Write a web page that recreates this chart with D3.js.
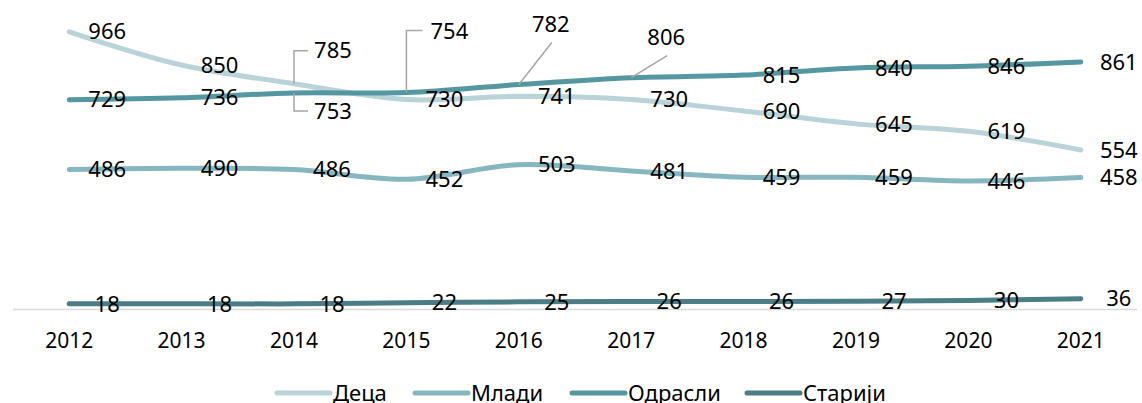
<!DOCTYPE html>
<html>
<head>
<meta charset="utf-8">
<script src="https://cdn.jsdelivr.net/npm/d3@7"></script>
<style>
  body { margin: 0; background: #fff; }
  text { font-family: "Noto Sans", sans-serif; fill: #000; }
</style>
</head>
<body>
<div id="holder"></div>
<script>
const w = 1142;
const h = 403;

// Data
const years = ["2012", "2013", "2014", "2015", "2016", "2017", "2018", "2019", "2020", "2021"];
const seriesNames = ["Деца", "Млади", "Одрасли", "Старији"];
const deca = [966, 850, 785, 730, 741, 730, 690, 645, 619, 554];
const mladi = [486, 490, 486, 452, 503, 481, 459, 459, 446, 458];
const odrasli = [729, 736, 753, 754, 782, 806, 815, 840, 846, 861];
const stariji = [18, 18, 18, 22, 25, 26, 26, 27, 30, 36];
const colors = ["#b9d3d9", "#86b7c0", "#5597a1", "#4a7d86"];

const series = seriesNames.map((name, i) => ({
    name: name,
    color: colors[i],
    values: [deca, mladi, odrasli, stariji][i]
}));

// Labels that Excel moved off the line, with leader lines (offsets in px from the point)
const moved = {
    "Деца-2014": { dx: 39, dy: -33, leader: "bracket" },
    "Одрасли-2014": { dx: 39, dy: 18, leader: "bracket" },
    "Одрасли-2015": { dx: 43, dy: -61, leader: "elbow" },
    "Одрасли-2016": { dx: 32, dy: -60, leader: "diag" },
    "Одрасли-2017": { dx: 35, dy: -40, leader: "diag" }
};

const svg = d3.select("#holder")
    .append("svg")
    .attr("width", w)
    .attr("height", h)

const x = d3.scaleBand()
    .domain(years)
    .range([13, 1137])

const y = d3.scaleLinear()
    .domain([0, 1000])
    .range([309, 22])

const cx = (d) => x(d) + x.bandwidth() / 2;

// x axis
svg.append("line")
    .attr("x1", x.range()[0])
    .attr("x2", x.range()[1])
    .attr("y1", y(0) + 0.5)
    .attr("y2", y(0) + 0.5)
    .attr("stroke", "#d9d9d9")
    .attr("stroke-width", 1.5)

svg.selectAll(".year")
    .data(years)
    .join("text")
    .attr("class", "year")
    .attr("x", cx)
    .attr("y", 341)
    .attr("dy", "0.35em")
    .attr("text-anchor", "middle")
    .style("font-size", "21px")
    .text((d) => d)

// Lines
const line = d3.line()
    .x((d, i) => cx(years[i]))
    .y((d) => y(d))
    .curve(d3.curveCatmullRom.alpha(0.5))

svg.selectAll(".series")
    .data(series)
    .join("path")
    .attr("class", "series")
    .attr("d", (d) => line(d.values))
    .attr("fill", "none")
    .attr("stroke", (d) => d.color)
    .attr("stroke-width", 5)
    .attr("stroke-linecap", "round")
    .attr("stroke-linejoin", "round")

// Data labels
const labels = [];
series.forEach((s) => {
    s.values.forEach((v, i) => {
        const px = cx(years[i]);
        const py = y(v);
        const m = moved[s.name + "-" + years[i]];
        labels.push({
            v: v, px: px, py: py,
            lx: px + (m ? m.dx : 38),
            ly: py + (m ? m.dy : 0),
            leader: m ? m.leader : null
        });
    });
});

function leaderPath(d) {
    if (d.leader === "bracket") {
        return `M${d.px},${d.py} V${d.ly} H${d.px + 14}`;
    }
    if (d.leader === "elbow") {
        return `M${d.px},${d.py} V${d.ly - 1} H${d.px + 16}`;
    }
    return `M${d.px},${d.py} L${d.lx + 1},${d.ly + 18}`;
}

svg.selectAll(".leader")
    .data(labels.filter((d) => d.leader))
    .join("path")
    .attr("class", "leader")
    .attr("d", leaderPath)
    .attr("fill", "none")
    .attr("stroke", "#a6a6a6")
    .attr("stroke-width", 1.5)

svg.selectAll(".label")
    .data(labels)
    .join("text")
    .attr("class", "label")
    .attr("x", (d) => d.lx)
    .attr("y", (d) => d.ly)
    .attr("dy", "0.35em")
    .attr("text-anchor", "middle")
    .style("font-size", "22px")
    .text((d) => d.v)

// Legend
const legendX = [275, 413, 570, 745];
const legend = svg.selectAll(".legend")
    .data(series)
    .join("g")
    .attr("class", "legend")
    .attr("transform", (d, i) => `translate(${legendX[i]},393)`)

legend.append("line")
    .attr("x1", 2)
    .attr("x2", 55)
    .attr("stroke", (d) => d.color)
    .attr("stroke-width", 5)
    .attr("stroke-linecap", "round")

legend.append("text")
    .attr("x", 58)
    .attr("dy", "0.35em")
    .style("font-size", "22px")
    .text((d) => d.name)
</script>
</body>
</html>
